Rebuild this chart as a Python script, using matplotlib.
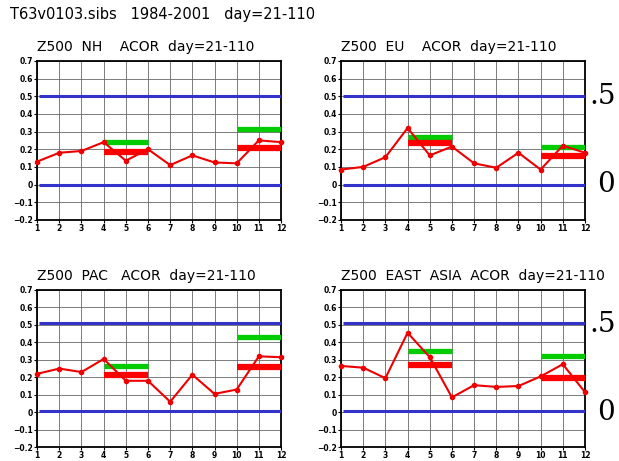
import numpy as np
import matplotlib.pyplot as plt

# --- datos ---
meses = np.arange(1, 13)
titulos = ['Z500  NH    ACOR  day=21-110', 'Z500  EU    ACOR  day=21-110',
           'Z500  PAC   ACOR  day=21-110', 'Z500  EAST  ASIA  ACOR  day=21-110']

acor_nh = [0.13, 0.18, 0.19, 0.24, 0.135, 0.20, 0.11, 0.165, 0.125, 0.12, 0.25, 0.24]
acor_eu = [0.085, 0.10, 0.155, 0.32, 0.165, 0.215, 0.12, 0.095, 0.18, 0.085, 0.22, 0.18]
acor_pac = [0.22, 0.25, 0.23, 0.305, 0.18, 0.18, 0.06, 0.215, 0.105, 0.13, 0.32, 0.315]
acor_ea = [0.265, 0.255, 0.195, 0.455, 0.315, 0.085, 0.155, 0.145, 0.15, 0.205, 0.275, 0.115]

# barras: (inicio, fin, valor)
verde_nh = [(4, 6, 0.24), (10, 12, 0.315)]
rojo_nh = [(4, 6, 0.185), (10, 12, 0.205)]
verde_eu = [(4, 6, 0.27), (10, 12, 0.21)]
rojo_eu = [(4, 6, 0.235), (10, 12, 0.16)]
verde_pac = [(4, 6, 0.265), (10, 12, 0.43)]
rojo_pac = [(4, 6, 0.215), (10, 12, 0.26)]
verde_ea = [(4, 6, 0.35), (10, 12, 0.32)]
rojo_ea = [(4, 6, 0.27), (10, 12, 0.195)]

# lineas azules de referencia
azul_top = [0.5, 0.0]
azul_bot = [0.51, 0.005]

series = [acor_nh, acor_eu, acor_pac, acor_ea]
verdes = [verde_nh, verde_eu, verde_pac, verde_ea]
rojos = [rojo_nh, rojo_eu, rojo_pac, rojo_ea]
azules = [azul_top, azul_top, azul_bot, azul_bot]

fig = plt.figure(figsize=(6.19, 4.61), dpi=100)
fig.text(0.016, 0.958, 'T63v0103.sibs   1984-2001   day=21-110', fontsize=10.5)

posiciones = [[0.060, 0.523, 0.394, 0.345], [0.551, 0.523, 0.394, 0.345],
              [0.060, 0.030, 0.394, 0.341], [0.551, 0.030, 0.394, 0.341]]

for k in range(4):
    ax = fig.add_axes(posiciones[k])
    ax.set_xlim(1, 12)
    ax.set_ylim(-0.2, 0.7)
    ax.set_xticks(meses)
    ax.set_yticks(np.arange(-0.2, 0.71, 0.1))
    ax.set_yticklabels(['\u22120.2', '\u22120.1', '0', '0.1', '0.2', '0.3', '0.4', '0.5', '0.6', '0.7'])
    ax.tick_params(labelsize=5.5, length=2, pad=1)
    for lab in ax.get_xticklabels() + ax.get_yticklabels():
        lab.set_fontweight('bold')
    ax.grid(color='#666666', lw=0.6)
    for s in ax.spines.values():
        s.set_linewidth(1.3)
    for v in azules[k]:
        ax.hlines(v, 1.1, 12, colors='#3333cc', lw=2.2, zorder=3)
    for (a, b, v) in verdes[k]:
        ax.hlines(v, a, b, colors='#00cc00', lw=3.8, zorder=3)
    for (a, b, v) in rojos[k]:
        ax.hlines(v, a, b, colors='#ff0000', lw=4.5, zorder=3)
    ax.plot(meses, series[k], '-o', color='#ee0000', lw=1.5, ms=3, zorder=4, clip_on=False)
    ax.set_title(titulos[k], fontsize=10, loc='left', x=0.0 if k % 2 == 0 else 0.0, pad=7)
    if k % 2 == 1:
        ax.text(1.02, 0.5, '.5', transform=ax.get_yaxis_transform(), fontsize=20,
                family='DejaVu Serif', va='center', ha='left', clip_on=False)
        ax.text(1.05, 0.0, '0', transform=ax.get_yaxis_transform(), fontsize=20,
                family='DejaVu Serif', va='center', ha='left', clip_on=False)

fig.savefig('out.png', dpi=100)
